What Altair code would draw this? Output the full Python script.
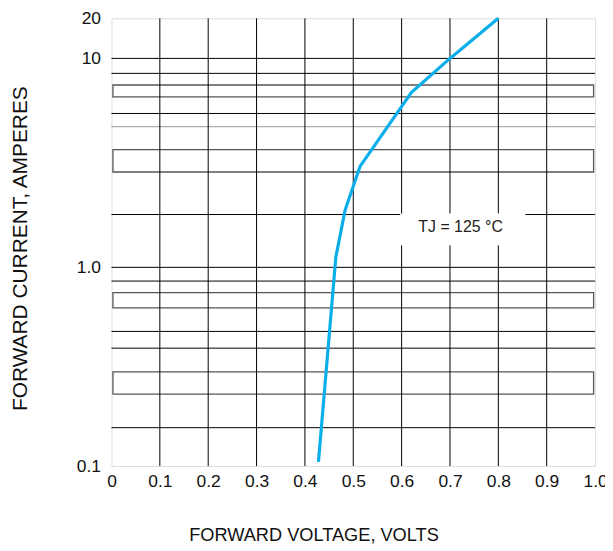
import altair as alt
import pandas as pd

# curve
vf = [0.428, 0.464, 0.483, 0.514, 0.620, 0.700, 0.800]
i_f = [0.105, 1.12, 1.875, 3.04, 6.86, 10.0, 20.0]

# grid
x_grid = [0.1, 0.2, 0.3, 0.4, 0.5, 0.6, 0.7, 0.8, 0.9]
h_lines = [0.156, 0.392, 0.476, 0.853, 1.0, 1.79, 4.71, 5.45, 8.48, 10.0]
h_colors = ["#000", "#000", "#000", "#000", "#000", "#000", "#999", "#000", "#000", "#000"]
box_lo = [0.23, 0.626, 2.86, 6.54]
box_hi = [0.298, 0.747, 3.66, 7.46]

y_ticks = [0.1, 1, 10, 20]
x_ticks = [0, 0.1, 0.2, 0.3, 0.4, 0.5, 0.6, 0.7, 0.8, 0.9, 1.0]

label_text = ["TJ =  125 °C"]
label_x = [0.722]
label_y = [1.56]

W, H = 486, 450
yscale = alt.Scale(type="log", domain=[0.1, 1, 10, 20], range=[H, 250.3, 40.3, 0], nice=False)
xscale = alt.Scale(domain=[0, 1], nice=False)

FONT = "Liberation Sans"

curve_df = pd.DataFrame({"v": vf, "i": i_f})
hl_df = pd.DataFrame({"y": h_lines, "c": h_colors})
box_df = pd.DataFrame({"lo": box_lo, "hi": box_hi, "x1": [0.003] * 4, "x2": [0.997] * 4})
lab_df = pd.DataFrame({"t": label_text, "x": label_x, "y": label_y})
white_df = pd.DataFrame({"x1": [0.597], "x2": [0.856], "y1": [1.277], "y2": [1.81]})
axis_df = pd.DataFrame({"v": [0.0, 1.0], "i": [0.1, 20.0]})

base_x = alt.X("v:Q", scale=xscale, title="FORWARD VOLTAGE, VOLTS",
               axis=alt.Axis(values=x_ticks, grid=False, domain=False, ticks=False,
                             labelFontSize=17.5, labelFont=FONT, labelColor="#111",
                             labelPadding=7, labelFlush=False, labelOverlap=False,
                             labelExpr="datum.value == 0 ? '0' : format(datum.value, '.1f')",
                             titleFont=FONT, titleFontSize=18.3, titleFontWeight="normal", titleColor="#111",
                             titleX=203, titleY=70, titleAlign="center", titleBaseline="middle"))
base_y = alt.Y("i:Q", scale=yscale, title="FORWARD CURRENT, AMPERES",
               axis=alt.Axis(values=y_ticks, grid=False, domain=False, ticks=False,
                             labelFontSize=17.5, labelFont=FONT, labelColor="#111", labelPadding=11,
                             labelFlush=False, labelOverlap=False,
                             labelExpr="datum.value < 0.5 ? '0.1' : datum.value < 5 ? '1.0' : datum.value < 15 ? '10' : '20'",
                             titleFont=FONT, titleFontSize=21, titleFontWeight="normal", titleColor="#111",
                             titleX=-91, titleY=231, titleBaseline="middle", titleAlign="center", titleAngle=-90))

axes = alt.Chart(axis_df).mark_point(opacity=0).encode(x=base_x, y=base_y)

hrules = alt.Chart(hl_df).mark_rule(strokeWidth=1).encode(
    y=alt.Y("y:Q", scale=yscale),
    color=alt.Color("c:N", scale=None),
)

boxes = alt.Chart(box_df).mark_rect(fill="white", fillOpacity=0, stroke="#555", strokeWidth=1.3).encode(
    x=alt.X("x1:Q", scale=xscale), x2="x2:Q",
    y=alt.Y("lo:Q", scale=yscale), y2="hi:Q",
)

vgrid = alt.Chart(pd.DataFrame({"v": x_grid})).mark_rule(color="#000", strokeWidth=1).encode(
    x=alt.X("v:Q", scale=xscale)
)

white = alt.Chart(white_df).mark_rect(fill="white").encode(
    x=alt.X("x1:Q", scale=xscale), x2="x2:Q",
    y=alt.Y("y1:Q", scale=yscale), y2="y2:Q",
)

label = alt.Chart(lab_df).mark_text(font=FONT, fontSize=16, color="#222").encode(
    x=alt.X("x:Q", scale=xscale), y=alt.Y("y:Q", scale=yscale), text="t:N"
)

line = alt.Chart(curve_df).mark_line(color="#0AAEEA", strokeWidth=3.2).encode(
    x=alt.X("v:Q", scale=xscale), y=alt.Y("i:Q", scale=yscale)
)

chart = alt.layer(axes, hrules, boxes, vgrid, white, label, line).properties(
    width=W, height=H,
    autosize="none",
    padding={"left": 104, "top": 9, "right": 10, "bottom": 80},
).configure_view(stroke="#000", strokeWidth=1.5).configure(background="white")

chart.save("out.html", embed_options={"renderer": "svg", "actions": False})
